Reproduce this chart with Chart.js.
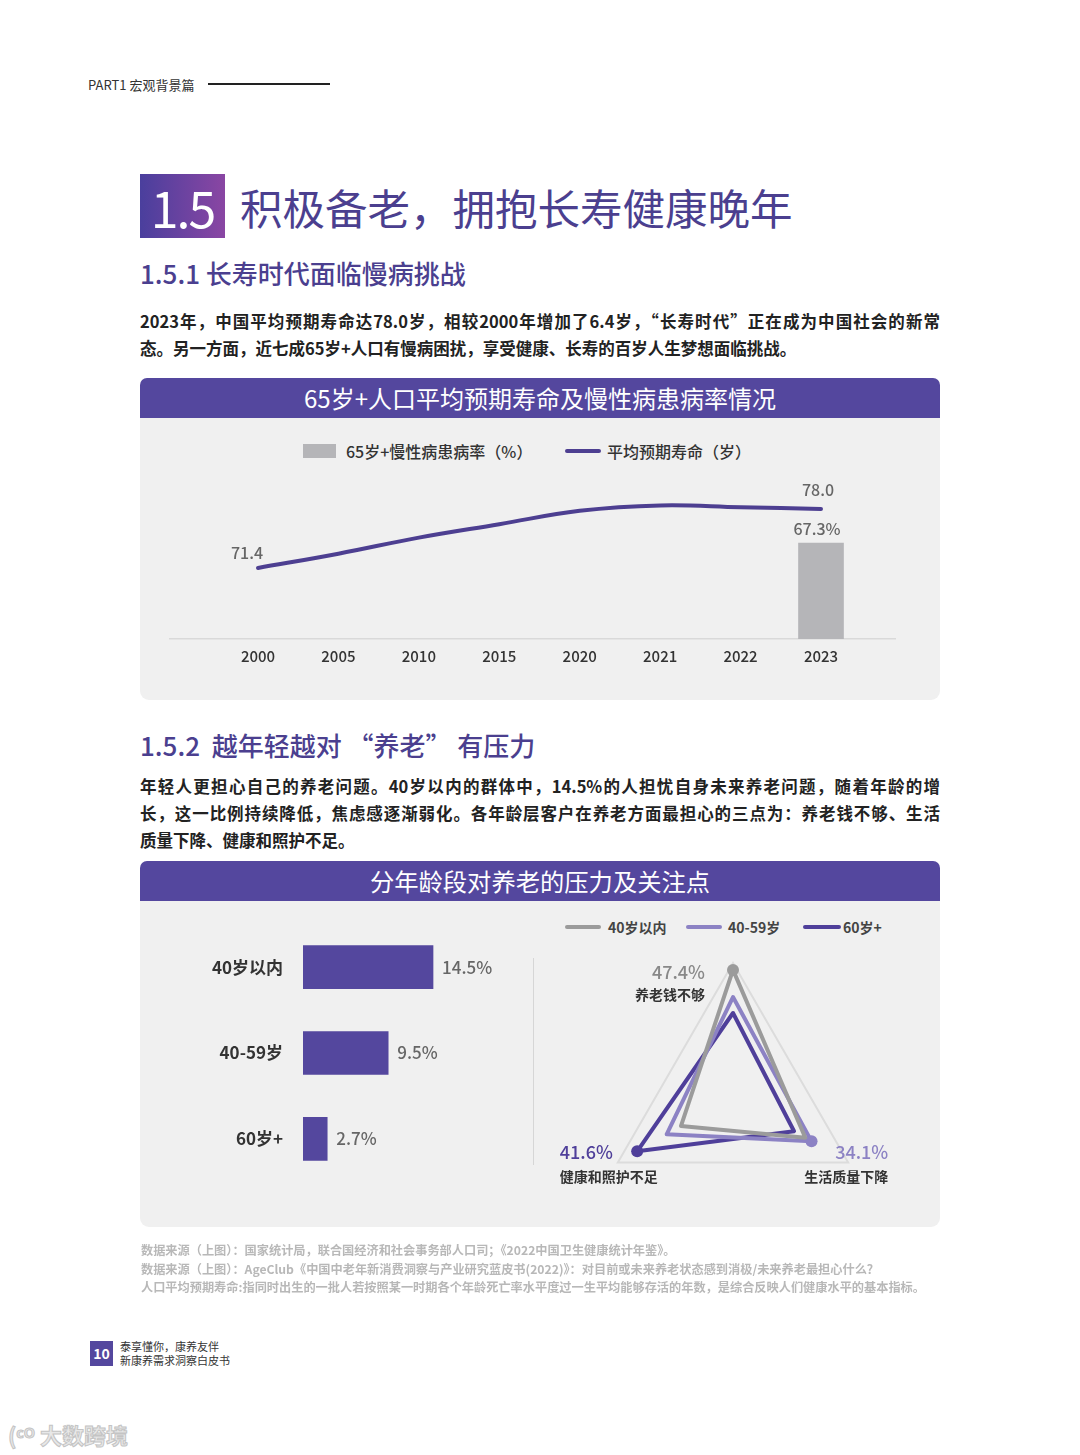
<!DOCTYPE html>
<html>
<head>
<meta charset="utf-8">
<script src="https://cdn.jsdelivr.net/npm/chart.js@4"></script>
<style>
body{margin:0;background:#fff;font-family:"Noto Sans CJK SC","Noto Sans",sans-serif;color:#222}
#page{position:relative;width:1080px;height:1455px;overflow:hidden;background:#fff}
.abs{position:absolute}
.part{left:88px;top:75px;font-size:13px;color:#333}
.partline{left:208px;top:83px;width:122px;height:2px;background:#222}
.numbox{left:140px;top:174px;width:85px;height:64px;background:linear-gradient(90deg,#4a3f9d,#8a46a3);color:#fff;font-size:50px;line-height:64px;text-align:center;letter-spacing:-2px}
.title{left:240px;top:178px;font-size:42.5px;line-height:58px;color:#4b3f8f}
.sub{left:140px;font-size:26px;line-height:36px;color:#4b3f8f;font-weight:500}
.para{left:140px;width:800px;font-size:16.5px;line-height:27px;font-weight:bold;color:#222}
.para div{text-align:justify;text-align-last:justify}
.para div.last{text-align-last:left}
.bar{left:140px;width:800px;height:40px;background:#54479e;border-radius:7px 7px 0 0;color:#fff;text-align:center;font-size:24px;line-height:40px}
.panel{left:140px;width:800px;background:#f0f0f0;border-radius:0 0 9px 9px}
.leg{font-size:16px;color:#333;line-height:20px;font-weight:500}
.leg2{font-size:14px;color:#444;font-weight:bold;line-height:18px}
.note{left:141px;font-size:12.2px;color:#b8b8b8;line-height:18px;font-weight:bold}
canvas{position:absolute}
</style>
</head>
<body>
<div id="page">
<div class="abs part">PART1 宏观背景篇</div>
<div class="abs partline"></div>

<div class="abs numbox">1.5</div>
<div class="abs title">积极备老，拥抱长寿健康晚年</div>
<div class="abs sub" style="top:255px">1.5.1 长寿时代面临慢病挑战</div>
<div class="abs para" style="top:308px">
<div>2023年，中国平均预期寿命达78.0岁，相较2000年增加了6.4岁，“长寿时代”正在成为中国社会的新常</div>
<div class="last">态。另一方面，近七成65岁+人口有慢病困扰，享受健康、长寿的百岁人生梦想面临挑战。</div>
</div>

<div class="abs bar" style="top:378px">65岁+人口平均预期寿命及慢性病患病率情况</div>
<div class="abs panel" style="top:418px;height:282px"></div>
<div class="abs" style="left:303px;top:444px;width:33px;height:14px;background:#b5b5b8"></div>
<div class="abs leg" style="left:346px;top:441px">65岁+慢性病患病率（%）</div>
<div class="abs" style="left:565px;top:449px;width:36px;height:4px;background:#4d3f91;border-radius:2px"></div>
<div class="abs leg" style="left:607px;top:441px">平均预期寿命（岁）</div>
<canvas id="c1" width="800" height="223" style="left:140px;top:460px"></canvas>

<div class="abs sub" style="top:727px">1.5.2&nbsp; 越年轻越对 “养老” 有压力</div>
<div class="abs para" style="top:773px">
<div>年轻人更担心自己的养老问题。40岁以内的群体中，14.5%的人担忧自身未来养老问题，随着年龄的增</div>
<div>长，这一比例持续降低，焦虑感逐渐弱化。各年龄层客户在养老方面最担心的三点为：养老钱不够、生活</div>
<div class="last">质量下降、健康和照护不足。</div>
</div>

<div class="abs bar" style="top:861px;font-size:24.3px">分年龄段对养老的压力及关注点</div>
<div class="abs panel" style="top:901px;height:326px"></div>
<div class="abs" style="left:533px;top:958px;width:1px;height:207px;background:#d6d6d6"></div>
<div class="abs" style="left:565px;top:925px;width:36px;height:4px;background:#9b9b9b;border-radius:2px"></div>
<div class="abs leg2" style="left:608px;top:918px">40岁以内</div>
<div class="abs" style="left:686px;top:925px;width:36px;height:4px;background:#8c82c4;border-radius:2px"></div>
<div class="abs leg2" style="left:728px;top:918px">40-59岁</div>
<div class="abs" style="left:803px;top:925px;width:38px;height:4px;background:#4f3f9a;border-radius:2px"></div>
<div class="abs leg2" style="left:843px;top:918px">60岁+</div>
<canvas id="c2" width="380" height="302" style="left:150px;top:902px"></canvas>
<canvas id="c3" width="360" height="360" style="left:553px;top:916px"></canvas>

<div class="abs note" style="top:1241px">数据来源（上图）：国家统计局，联合国经济和社会事务部人口司；《2022中国卫生健康统计年鉴》。</div>
<div class="abs note" style="top:1260px">数据来源（上图）：AgeClub《中国中老年新消费洞察与产业研究蓝皮书(2022)》：对目前或未来养老状态感到消极/未来养老最担心什么？</div>
<div class="abs note" style="top:1278px">人口平均预期寿命:指同时出生的一批人若按照某一时期各个年龄死亡率水平度过一生平均能够存活的年数，是综合反映人们健康水平的基本指标。</div>

<div class="abs" style="left:90px;top:1341px;width:23px;height:25px;background:#54479e;color:#fff;font-size:14px;line-height:25px;text-align:center;font-weight:bold">10</div>
<div class="abs" style="left:120px;top:1339px;font-size:11px;line-height:14px;color:#333">泰享懂你，康养友伴<br>新康养需求洞察白皮书</div>

<div class="abs" style="left:8px;top:1418px;font-size:22px;color:#e8e8e8;-webkit-text-stroke:1px #c4c4c4;font-weight:bold">(ᶜᴼ 大数跨境</div>
</div>

<script>
// chart 1 data
const years=["2000","2005","2010","2015","2020","2021","2022","2023"]
const lifeExp=[71.4,73.0,74.8,76.3,77.8,78.4,78.2,78.0]
const chronicRate=[null,null,null,null,null,null,null,67.3]

// chart 2 data
const ageGroups=["40岁以内","40-59岁","60岁+"]
const pressure=[14.5,9.5,2.7]

const concerns=["养老钱不够","生活质量下降","健康和照护不足"]
const under40=[47.4,31.4,22.6]
const age40to59=[37.2,34.1,28.8]
const over60=[31.2,26.5,41.6]

Chart.defaults.font.family='"Noto Sans CJK SC","Noto Sans",sans-serif'
Chart.defaults.animation=false

const lineLabels={
id:"lineLabels",
afterDatasetsDraw(chart){
const ctx=chart.ctx
ctx.save()
ctx.font="500 16px 'Noto Sans CJK SC'"
ctx.fillStyle="#666"
ctx.textAlign="center"
ctx.textBaseline="middle"
const line=chart.getDatasetMeta(1).data
const first=line[0],last=line[line.length-1]
ctx.fillText(lifeExp[0].toFixed(1),first.x-11,first.y-15)
ctx.fillText(lifeExp[lifeExp.length-1].toFixed(1),last.x-3,last.y-19)
const bar=chart.getDatasetMeta(0).data[7]
ctx.fillText(chronicRate[7].toFixed(1)+"%",bar.x-4,bar.y-14)
ctx.restore()
}
}

new Chart(document.getElementById("c1"),{
data:{
datasets:[
{type:"bar",yAxisID:"y1",data:chronicRate.map((v,i)=>({x:i,y:v})),backgroundColor:"#b5b5b8",barThickness:45},
{type:"line",yAxisID:"y",data:lifeExp.map((v,i)=>({x:i,y:v})),borderColor:"#4d3f91",borderWidth:4,tension:0.4,pointRadius:0,borderCapStyle:"round"}
]
},
options:{
responsive:false,
devicePixelRatio:1,
layout:{padding:{left:30,right:45,top:10,bottom:10}},
plugins:{legend:{display:false},tooltip:{enabled:false}},
scales:{
x:{type:"linear",offset:false,min:-1.094,max:7.92,
afterBuildTicks(s){s.ticks=years.map((_,i)=>({value:i}))},
grid:{display:false,drawTicks:false},
border:{display:true,color:"#d9d9d9",width:1.5},
ticks:{autoSkip:false,maxRotation:0,padding:8,color:"#333",font:{size:15,weight:500},callback:v=>years[v]}},
y:{display:false,min:63.46,max:82.36},
y1:{display:false,min:0,max:118.5}
}
},
plugins:[lineLabels]
})

const barLabels={
id:"barLabels",
afterDatasetsDraw(chart){
const ctx=chart.ctx
ctx.save()
ctx.font="500 17px 'Noto Sans CJK SC'"
ctx.fillStyle="#666"
ctx.textBaseline="middle"
chart.getDatasetMeta(0).data.forEach((b,i)=>{
ctx.fillText(pressure[i].toFixed(1)+"%",b.x+9,b.y)
})
ctx.restore()
}
}

new Chart(document.getElementById("c2"),{
type:"bar",
data:{labels:ageGroups,datasets:[{data:pressure,backgroundColor:"#54479e",barThickness:43}]},
options:{
indexAxis:"y",
responsive:false,
devicePixelRatio:1,
layout:{padding:{left:0,right:10,top:0,bottom:0}},
plugins:{legend:{display:false},tooltip:{enabled:false}},
scales:{
x:{display:false,min:0,max:24.2},
y:{afterFit(s){s.width=153},grid:{display:false},border:{display:false},
ticks:{padding:12,color:"#333",font:{size:17,weight:"bold"}}}
}
},
plugins:[barLabels]
})

const radarLabels={
id:"radarLabels",
afterDatasetsDraw(chart){
const ctx=chart.ctx
const r=chart.scales.r
const p0=r.getPointPositionForValue(0,r.max)
const p1=r.getPointPositionForValue(1,r.max)
const p2=r.getPointPositionForValue(2,r.max)
ctx.save()
ctx.textBaseline="middle"
ctx.font="500 18px 'Noto Sans CJK SC'"
ctx.textAlign="right"
ctx.fillStyle="#888"
ctx.fillText(under40[0].toFixed(1)+"%",p0.x-28,p0.y+9)
ctx.fillStyle="#8c82c4"
ctx.fillText(age40to59[1].toFixed(1)+"%",p1.x+40,p1.y-10)
ctx.textAlign="left"
ctx.fillStyle="#4f3f9a"
ctx.fillText(over60[2].toFixed(1)+"%",p2.x-58,p2.y-10)
ctx.font="bold 14px 'Noto Sans CJK SC'"
ctx.fillStyle="#333"
ctx.textAlign="right"
ctx.fillText(concerns[0],p0.x-28,p0.y+32)
ctx.fillText(concerns[1],p1.x+40,p1.y+14)
ctx.textAlign="left"
ctx.fillText(concerns[2],p2.x-58,p2.y+14)
ctx.restore()
}
}

new Chart(document.getElementById("c3"),{
type:"radar",
data:{
labels:concerns,
datasets:[
{data:under40,borderColor:"#9b9b9b",pointBackgroundColor:"#9b9b9b",pointBorderWidth:0,pointRadius:[6,0,0],borderWidth:4,fill:false},
{data:age40to59,borderColor:"#8c82c4",pointBackgroundColor:"#8c82c4",pointBorderWidth:0,pointRadius:[0,6,0],borderWidth:4,fill:false},
{data:over60,borderColor:"#4f3f9a",pointBackgroundColor:"#4f3f9a",pointBorderWidth:0,pointRadius:[0,0,6],borderWidth:4,fill:false}
]
},
options:{
responsive:false,
devicePixelRatio:1,
layout:{padding:47},
elements:{line:{tension:0,borderJoinStyle:"round"}},
plugins:{legend:{display:false},tooltip:{enabled:false}},
scales:{
r:{min:0,max:50,
ticks:{display:false,stepSize:50},
grid:{color:"#dcdcdc",lineWidth:2},
angleLines:{display:false},
pointLabels:{display:false}}
}
},
plugins:[radarLabels]
})
</script>
</body>
</html>
